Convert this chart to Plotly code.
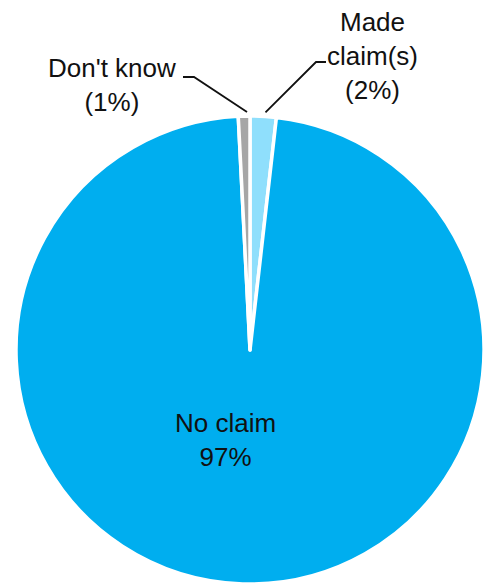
import math
import plotly.graph_objects as go

# ---- data ----
categories = ["Made claim(s)", "No claim", "Don't know"]
values = [1.8, 97.4, 0.8]
colors = ["#8FDFFC", "#00AEEF", "#A6A6A6"]

W, H = 484, 584
# pie geometry (pixels) derived from domain
dom_x = [16 / W, 1.0]
dom_y = [0.0, (H - 116) / H]
cx = W * (dom_x[0] + dom_x[1]) / 2
box = min(W * (dom_x[1] - dom_x[0]), H * (dom_y[1] - dom_y[0]))
r = box / 2
cy = H - H * dom_y[0] - box / 2

def px2paper(x, y):
    return x / W, 1 - y / H

fig = go.Figure(go.Pie(
    labels=categories,
    values=values,
    sort=False,
    direction="clockwise",
    rotation=0,
    marker=dict(colors=colors, line=dict(color="white", width=3.5)),
    textinfo="none",
    hoverinfo="skip",
    showlegend=False,
    domain=dict(x=dom_x, y=dom_y),
))

# mid angles of slices (clockwise from 12 o'clock)
total = sum(values)
mids = []
acc = 0
for v in values:
    mids.append((acc + v / 2) / total * 360)
    acc += v

def edge_point(angle_deg, extra=4):
    a = math.radians(angle_deg)
    return cx + (r + extra) * math.sin(a), cy - (r + extra) * math.cos(a)

font = dict(family="Liberation Sans, Arial, sans-serif", size=26, color="#111111")

def pct(v):
    return f"{round(v / total * 100)}%"

annotations = []
shapes = []

def leader(pts):
    path = "M " + " L ".join(f"{px2paper(x, y)[0]},{px2paper(x, y)[1]}" for x, y in pts)
    return dict(type="path", path=path, xref="paper", yref="paper",
                line=dict(color="#111111", width=1.8))

# Made claim(s)
x0, y0 = edge_point(mids[0])
shapes.append(leader([(x0 + 2, y0), (316, 62), (326, 62)]))
ax_, ay_ = px2paper(372, 56)
annotations.append(dict(x=ax_, y=ay_, xref="paper", yref="paper", showarrow=False,
                        text=f"Made<br>claim(s)<br>({pct(values[0])})", font=font,
                        xanchor="center", yanchor="middle", align="center"))

# Don't know
x2, y2 = edge_point(mids[2])
shapes.append(leader([(183, 77), (194, 77), (x2 + 3, y2)]))
ax_, ay_ = px2paper(112, 85)
annotations.append(dict(x=ax_, y=ay_, xref="paper", yref="paper", showarrow=False,
                        text=f"Don't know<br>({pct(values[2])})", font=font,
                        xanchor="center", yanchor="middle", align="center"))

# No claim (inside)
ax_, ay_ = px2paper(225, 440)
annotations.append(dict(x=ax_, y=ay_, xref="paper", yref="paper", showarrow=False,
                        text=f"No claim<br>{pct(values[1])}", font=font,
                        xanchor="center", yanchor="middle", align="center"))

fig.update_layout(
    width=W, height=H,
    margin=dict(l=0, r=0, t=0, b=0),
    paper_bgcolor="white", plot_bgcolor="white",
    annotations=annotations, shapes=shapes,
)

fig.write_html(
    "out.html",
    config={"displayModeBar": False},
    post_script="document.body.style.margin='0';document.body.style.overflow='hidden';",
)
